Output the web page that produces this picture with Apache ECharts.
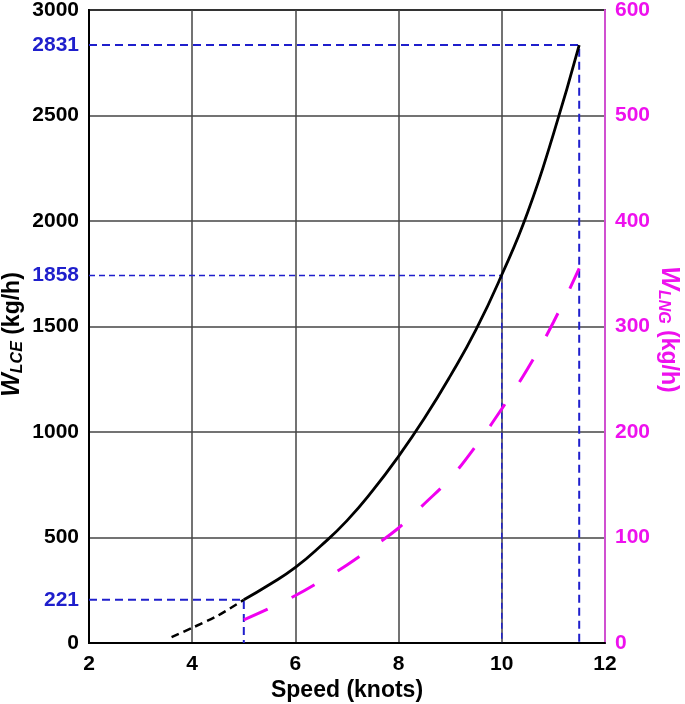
<!DOCTYPE html>
<html>
<head>
<meta charset="utf-8">
<script src="https://cdn.jsdelivr.net/npm/echarts@6/dist/echarts.min.js"></script>
<style>
html,body{margin:0;padding:0;background:#fff;}
#chart{width:685px;height:704px;}
</style>
</head>
<body>
<div id="chart"></div>
<script>
// ---- data ----
const speedsLCE = [5, 5.5, 6, 6.5, 7, 7.5, 8, 8.5, 9, 9.5, 10, 10.5, 11, 11.5];
const wLCE      = [205, 277, 358, 462, 580, 723, 885, 1065, 1265, 1485, 1745, 2040, 2412, 2834];
const speedsExt = [3.6, 4, 4.5, 5];
const wExt      = [28, 72, 130, 205];
const speedsLNG = [5, 5.5, 6, 6.5, 7, 7.5, 8, 8.5, 9, 9.5, 10, 10.5, 11, 11.5];
const wLNG      = [22, 33, 45, 59, 74, 91, 109, 132, 156, 187, 222, 260, 304, 355];
const refSpeeds = [5, 10, 11.5];
const refLevels = [205, 1742, 2834];
const refLabels = ['221', '1858', '2831'];
const xMin = 2, xMax = 12, xStep = 2;
const yLeftMax = 3000, yLeftStep = 500;
const yRightMax = 600, yRightStep = 100;

const FONT = '"Liberation Sans", Arial, sans-serif';
const BLUE = '#1f1fcc';
const MAG = '#ee11ee';
const TICK = 21;

const zip = (xs, ys) => xs.map((x, i) => [x, ys[i]]);
const plain = v => String(v);

const refSeries = refSpeeds.map((s, i) => ({
  type: 'line',
  yAxisIndex: 0,
  symbol: 'circle',
  symbolSize: 0,
  silent: true,
  z: 3,
  lineStyle: { color: BLUE, width: i === 1 ? 1.5 : 2, type: i === 1 ? [6, 4] : [8, 5] },
  itemStyle: { color: BLUE },
  data: [
    { value: [xMin, refLevels[i]], label: { show: true, position: 'left', distance: 10, formatter: refLabels[i],
      color: BLUE, fontWeight: 'bold', fontSize: TICK, fontFamily: FONT } },
    [s, refLevels[i]],
    [s, 0]
  ]
}));

function nameRich(color) {
  return {
    w: { fontSize: 25, fontWeight: 'bold', fontStyle: 'italic', color: color, fontFamily: FONT },
    s: { fontSize: 16, fontWeight: 'bold', fontStyle: 'italic', color: color, fontFamily: FONT, padding: [11, 0, 0, 0] },
    n: { fontSize: 23, fontWeight: 'bold', color: color, fontFamily: FONT }
  };
}

const chart = echarts.init(document.getElementById('chart'), null, { renderer: 'canvas' });
chart.setOption({
  animation: false,
  backgroundColor: '#fff',
  grid: { left: 89, right: 80, top: 10, bottom: 61, containLabel: false, outerBoundsMode: 'none',
          show: true, borderColor: '#000', borderWidth: 2 },
  xAxis: {
    type: 'value', min: xMin, max: xMax, interval: xStep,
    name: 'Speed (knots)', nameLocation: 'middle', nameGap: 36, nameMoveOverlap: false,
    nameTextStyle: { fontSize: 23, fontWeight: 'bold', color: '#000', fontFamily: FONT },
    axisLine: { show: true, lineStyle: { color: '#000', width: 2 } },
    axisTick: { show: false },
    axisLabel: { fontSize: TICK, fontWeight: 'bold', color: '#000', margin: 11, fontFamily: FONT, formatter: plain },
    splitLine: { show: true, lineStyle: { color: '#444', width: 1.5 } }
  },
  yAxis: [
    {
      type: 'value', min: 0, max: yLeftMax, interval: yLeftStep, position: 'left',
      name: '{w|W}{s|LCE}{n| (kg/h)}', nameLocation: 'middle', nameGap: 63, nameRotate: 90, nameMoveOverlap: false,
      nameTextStyle: { color: '#000', fontFamily: FONT, padding: [0, 16, 0, 0], rich: nameRich('#000') },
      axisLine: { show: true, lineStyle: { color: '#000', width: 2 } },
      axisTick: { show: false },
      axisLabel: { fontSize: TICK, fontWeight: 'bold', color: '#000', margin: 10, fontFamily: FONT, formatter: plain },
      splitLine: { show: true, lineStyle: { color: '#444', width: 1.5 } }
    },
    {
      type: 'value', min: 0, max: yRightMax, interval: yRightStep, position: 'right',
      name: '{w|W}{s|LNG}{n| (kg/h)}', nameLocation: 'middle', nameGap: 50, nameRotate: -90, nameMoveOverlap: false,
      nameTextStyle: { color: MAG, fontFamily: FONT, padding: [0, 0, 0, 6], rich: nameRich(MAG) },
      axisLine: { show: true, lineStyle: { color: '#d050d0', width: 2 } },
      axisTick: { show: false },
      axisLabel: { fontSize: TICK, fontWeight: 'bold', color: MAG, margin: 10, fontFamily: FONT, formatter: plain },
      splitLine: { show: false }
    }
  ],
  series: [
    ...refSeries,
    {
      type: 'line', yAxisIndex: 0, smooth: 0.5, symbol: 'none', z: 5,
      lineStyle: { color: '#000', width: 2.8 },
      data: zip(speedsLCE, wLCE)
    },
    {
      type: 'line', yAxisIndex: 0, smooth: 0.3, symbol: 'none', z: 5,
      lineStyle: { color: '#000', width: 2.5, type: [8, 5] },
      data: zip(speedsExt, wExt)
    },
    {
      type: 'line', yAxisIndex: 1, smooth: 0.4, symbol: 'none', z: 5,
      lineStyle: { color: '#f000f0', width: 3, type: [26, 27] },
      data: zip(speedsLNG, wLNG)
    }
  ]
});
</script>
</body>
</html>
